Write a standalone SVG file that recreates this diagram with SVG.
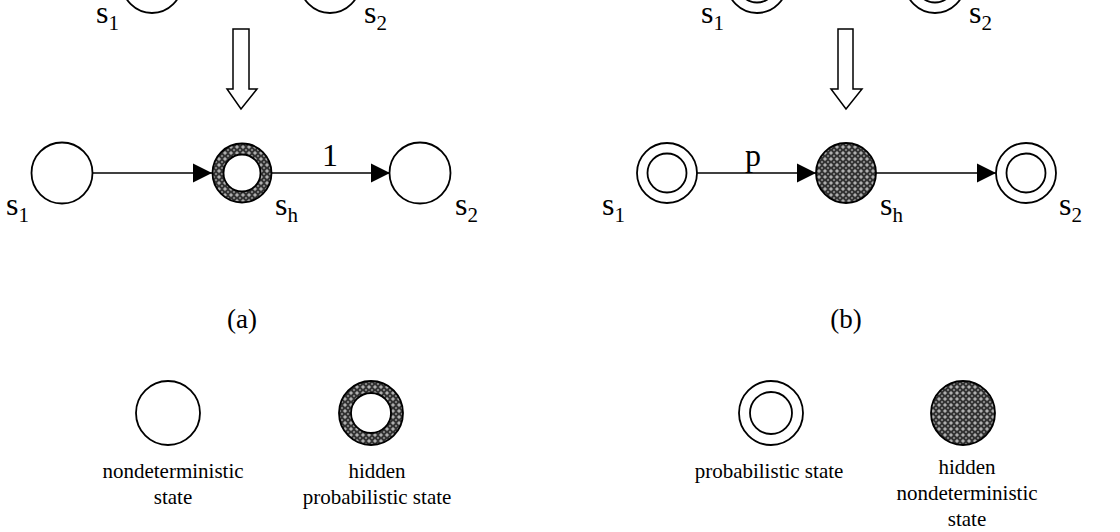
<svg xmlns="http://www.w3.org/2000/svg" width="1120" height="532" viewBox="0 0 1120 532">
<style>
.st{fill:#fff;stroke:#000;stroke-width:1.8}
.hid{fill:url(#hatch);stroke:#000;stroke-width:1.8}
.edge{stroke:#000;stroke-width:1.5;fill:none;marker-end:url(#ah)}
.big{fill:#fff;stroke:#000;stroke-width:1.5}
text{font-family:"Liberation Serif","Times New Roman",serif;fill:#000}
.lb{font-size:32px}
.sub{font-size:21px}
.leg{font-size:21px;text-anchor:middle}
.cap{font-size:27px;text-anchor:middle}
</style>
<defs>
<pattern id="hatch" width="6" height="6" patternUnits="userSpaceOnUse">
<rect width="6" height="6" fill="#333"/>
<path d="M3 1.2V4.8M1.2 3H4.8" stroke="#d8d8d8" stroke-width="1"/>
<circle cx="0" cy="0" r="1" fill="#999"/>
<circle cx="6" cy="6" r="1" fill="#999"/>
<circle cx="0" cy="6" r="1" fill="#999"/>
<circle cx="6" cy="0" r="1" fill="#999"/>
</pattern>
<marker id="ah" markerUnits="userSpaceOnUse" markerWidth="20" markerHeight="20" refX="19" refY="10" orient="auto">
<path d="M0 0.5L19 10L0 19.5Z" fill="#000"/>
</marker>
</defs>

<g id="connectors">
<line class="edge" x1="92" y1="173" x2="212" y2="173"/>
<line class="edge" x1="272" y1="173" x2="390" y2="173"/>
<line class="edge" x1="697" y1="173" x2="816" y2="173"/>
<line class="edge" x1="876" y1="173" x2="996" y2="173"/>
<polygon id="bigArrowA" class="big" points="233,29 249,29 249,89 257,89 241,109 227,89 233,89"/>
<polygon id="bigArrowB" class="big" points="838,29 853,29 853,89 862,89 846,109 831,89 838,89"/>
<text class="lb" x="322" y="166">1</text>
<text class="lb" x="745" y="166">p</text>
</g>

<g id="topA_s1"><circle class="st" cx="152" cy="-17" r="30"/><text class="lb" x="96" y="23">s<tspan class="sub" dy="7">1</tspan></text></g>
<g id="topA_s2"><circle class="st" cx="330" cy="-17" r="30"/><text class="lb" x="364" y="23">s<tspan class="sub" dy="7">2</tspan></text></g>
<g id="topB_s1"><circle class="st" cx="757" cy="-17" r="30"/><circle class="st" cx="757" cy="-17" r="19.5"/><text class="lb" x="701" y="23">s<tspan class="sub" dy="7">1</tspan></text></g>
<g id="topB_s2"><circle class="st" cx="935" cy="-17" r="30"/><circle class="st" cx="935" cy="-17" r="19.5"/><text class="lb" x="969" y="23">s<tspan class="sub" dy="7">2</tspan></text></g>

<g id="a_s1"><circle class="st" cx="62" cy="173" r="30.5"/><text class="lb" x="6" y="215">s<tspan class="sub" dy="7">1</tspan></text></g>
<g id="a_sh"><circle class="hid" cx="242" cy="173" r="29.5"/><circle class="st" cx="242" cy="173" r="18.5"/><text class="lb" x="275" y="215">s<tspan class="sub" dy="7">h</tspan></text></g>
<g id="a_s2"><circle class="st" cx="420" cy="173" r="30.5"/><text class="lb" x="455" y="215">s<tspan class="sub" dy="7">2</tspan></text></g>

<g id="b_s1"><circle class="st" cx="667" cy="173" r="30"/><circle class="st" cx="667" cy="173" r="19.5"/><text class="lb" x="602" y="215">s<tspan class="sub" dy="7">1</tspan></text></g>
<g id="b_sh"><circle class="hid" cx="846" cy="173" r="30"/><text class="lb" x="880" y="215">s<tspan class="sub" dy="7">h</tspan></text></g>
<g id="b_s2"><circle class="st" cx="1026" cy="173" r="30"/><circle class="st" cx="1026" cy="173" r="19.5"/><text class="lb" x="1059" y="215">s<tspan class="sub" dy="7">2</tspan></text></g>

<g id="capA"><text class="cap" x="242" y="328">(a)</text></g>
<g id="capB"><text class="cap" x="846" y="328">(b)</text></g>

<g id="legND"><circle class="st" cx="168" cy="413" r="32"/><text class="leg" x="173" y="478">nondeterministic</text><text class="leg" x="173" y="504">state</text></g>
<g id="legHP"><circle class="hid" cx="371" cy="413" r="32"/><circle class="st" cx="371" cy="413" r="20"/><text class="leg" x="377" y="478">hidden</text><text class="leg" x="377" y="504">probabilistic state</text></g>
<g id="legP"><circle class="st" cx="771" cy="413" r="32"/><circle class="st" cx="771" cy="413" r="21"/><text class="leg" x="769" y="478">probabilistic state</text></g>
<g id="legHN"><circle class="hid" cx="963" cy="413" r="32"/><text class="leg" x="967" y="474">hidden</text><text class="leg" x="967" y="500">nondeterministic</text><text class="leg" x="967" y="526">state</text></g>
</svg>
